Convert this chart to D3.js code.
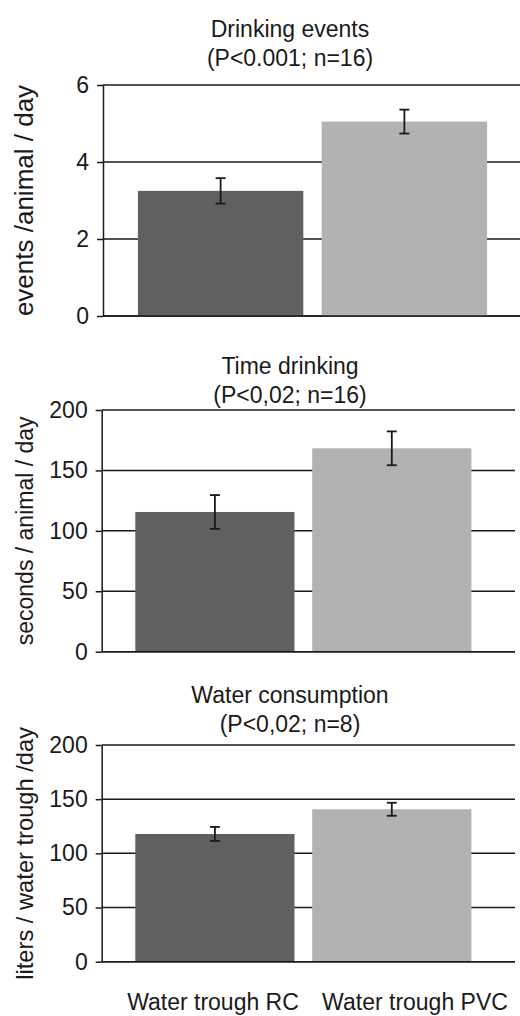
<!DOCTYPE html>
<html>
<head>
<meta charset="utf-8">
<script src="https://cdn.jsdelivr.net/npm/d3@7"></script>
<style>
  body { margin: 0; background: #fff; }
  svg { display: block; font-family: "Liberation Sans", Arial, sans-serif; }
</style>
</head>
<body>
<svg id="chart"></svg>
<script>
// Categories (x axis)
const categories = ["Water trough RC", "Water trough PVC"];

// Panel titles and y labels
const titles = [
  ["Drinking events", "(P<0.001; n=16)"],
  ["Time drinking", "(P<0,02; n=16)"],
  ["Water consumption", "(P<0,02; n=8)"]
];
const yLabels = ["events /animal / day", "seconds / animal / day", "liters / water trough /day"];

// Values (mean and error)
const eventsMean = [3.25, 5.05];
const eventsErr = [0.33, 0.31];
const timeMean = [115.6, 168.3];
const timeErr = [14, 14];
const waterMean = [117.9, 140.7];
const waterErr = [6.5, 6];

// Tick labels
const eventsTicks = [0, 2, 4, 6];
const timeTicks = [0, 50, 100, 150, 200];
const waterTicks = [0, 50, 100, 150, 200];

const W = 520, H = 1016;
const colors = ["#606060", "#b2b2b2"];
const ink = "#1a1a1a";
const fontFamily = "\"Liberation Sans\", Arial, sans-serif";

const svg = d3.select("#chart").attr("width", W).attr("height", H);

// layout for each panel
const panels = [
  { mean: eventsMean, err: eventsErr, ticks: eventsTicks, max: 6, top: 85, bottom: 316, left: 103, right: 522, gridEnd: 520, titleY: 37, labelSize: 26 },
  { mean: timeMean, err: timeErr, ticks: timeTicks, max: 200, top: 410, bottom: 651.7, left: 101.7, right: 505, gridEnd: 515, titleY: 374, labelSize: 23 },
  { mean: waterMean, err: waterErr, ticks: waterTicks, max: 200, top: 745, bottom: 961.7, left: 101.7, right: 505, gridEnd: 515, titleY: 703, labelSize: 23.7 }
];

panels.forEach((p, i) => {
  const g = svg.append("g");

  const y = d3.scaleLinear().domain([0, p.max]).range([p.bottom, p.top]);
  const x = d3.scaleBand()
    .domain(categories)
    .range([p.left, p.right])
    .paddingInner(0.1)
    .paddingOuter(0.19);

  // gridlines
  g.append("g")
    .selectAll("line")
    .data(p.ticks)
    .enter()
    .append("line")
    .attr("x1", p.left)
    .attr("x2", p.gridEnd)
    .attr("y1", (d) => y(d))
    .attr("y2", (d) => y(d))
    .attr("stroke", ink)
    .attr("stroke-width", 1.5);

  // bars
  g.selectAll(".bar")
    .data(p.mean)
    .enter()
    .append("rect")
    .attr("x", (d, j) => x(categories[j]))
    .attr("y", (d) => y(d))
    .attr("width", x.bandwidth())
    .attr("height", (d) => y(0) - y(d))
    .attr("fill", (d, j) => colors[j]);

  // zero line on top of bars
  g.append("line")
    .attr("x1", p.left)
    .attr("x2", p.gridEnd)
    .attr("y1", y(0))
    .attr("y2", y(0))
    .attr("stroke", ink)
    .attr("stroke-width", 1.5);

  // y axis
  const axis = g.append("g")
    .attr("transform", `translate(${p.left},0)`)
    .call(d3.axisLeft(y).tickValues(p.ticks).tickFormat(d3.format("d")).tickSize(6).tickPadding(8).tickSizeOuter(0))
    .attr("font-size", 23)
    .attr("font-family", fontFamily);
  axis.select(".domain").attr("stroke", ink).attr("stroke-width", 1.5);
  axis.selectAll(".tick line").attr("stroke", ink).attr("stroke-width", 1.5);
  axis.selectAll(".tick text").attr("fill", ink);

  // error bars
  const eb = g.selectAll(".err")
    .data(p.mean)
    .enter()
    .append("g")
    .attr("stroke", ink)
    .attr("stroke-width", 1.8);
  const cx = (j) => x(categories[j]) + x.bandwidth() / 2;
  eb.append("line")
    .attr("x1", (d, j) => cx(j)).attr("x2", (d, j) => cx(j))
    .attr("y1", (d, j) => y(d + p.err[j])).attr("y2", (d, j) => y(d - p.err[j]));
  eb.append("line")
    .attr("x1", (d, j) => cx(j) - 5).attr("x2", (d, j) => cx(j) + 5)
    .attr("y1", (d, j) => y(d + p.err[j])).attr("y2", (d, j) => y(d + p.err[j]));
  eb.append("line")
    .attr("x1", (d, j) => cx(j) - 5).attr("x2", (d, j) => cx(j) + 5)
    .attr("y1", (d, j) => y(d - p.err[j])).attr("y2", (d, j) => y(d - p.err[j]));

  // title
  g.append("text")
    .attr("x", 290)
    .attr("y", p.titleY)
    .attr("text-anchor", "middle")
    .attr("fill", ink)
    .style("font-size", "23px")
    .text(titles[i][0]);
  g.append("text")
    .attr("x", 290)
    .attr("y", p.titleY + 28.5)
    .attr("text-anchor", "middle")
    .attr("fill", ink)
    .style("font-size", "23px")
    .text(titles[i][1]);

  // y label
  g.append("text")
    .attr("transform", `translate(33,${(p.top + p.bottom) / 2}) rotate(-90)`)
    .attr("text-anchor", "middle")
    .attr("fill", ink)
    .style("font-size", p.labelSize + "px")
    .text(yLabels[i]);

  // x labels on the last panel only
  if (i === panels.length - 1) {
    g.selectAll(".xlab")
      .data(categories)
      .enter()
      .append("text")
      .attr("x", (d, j) => (j === 0 ? 213 : 415))
      .attr("y", 1010)
      .attr("text-anchor", "middle")
      .attr("fill", ink)
      .style("font-size", "23px")
      .text((d) => d);
  }
});
</script>
</body>
</html>
